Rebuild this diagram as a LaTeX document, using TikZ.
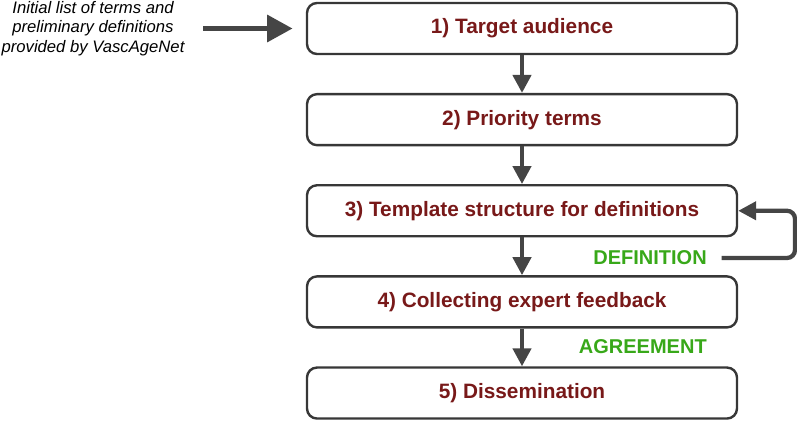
\documentclass[tikz,border=0pt]{standalone}
\usepackage{fontspec}
\setmainfont{Liberation Sans}
\usetikzlibrary{arrows.meta,positioning}
\definecolor{darkmaroon}{rgb}{0.47,0.10,0.10}
\definecolor{leafgreen}{rgb}{0.22,0.66,0.10}
\definecolor{slategray}{rgb}{0.27,0.27,0.27}
\tikzset{
  etapa/.style={
    rounded corners=7.5pt,
    draw=slategray!80!black,
    line width=1.8pt,
    fill=white,
    align=center,
    minimum width=322.5pt,
    minimum height=38.25pt,
    inner sep=0pt,
    text=darkmaroon,
    font=\fontsize{15.6}{18}\selectfont\bfseries
  },
  nota/.style={
    align=center,
    inner sep=0pt,
    font=\fontsize{12.5}{14.8}\selectfont\itshape
  },
  marca/.style={
    anchor=east,
    inner sep=0pt,
    text=leafgreen,
    font=\fontsize{15}{18}\selectfont\bfseries
  },
  arrow/.style={
    -{Triangle[length=13.5pt,width=13.5pt]},
    line width=3.2pt,
    slategray
  }
}
\begin{document}
\begin{tikzpicture}[x=0.75pt,y=-0.75pt,node distance=28.3pt]
\useasboundingbox (0,0) rectangle (797,421);
\node[etapa] (a1) at (522,28.5) {1) Target audience};
\node[etapa,below=of a1] (a2) {2) Priority terms};
\node[etapa,below=of a2] (a3) {3) Template structure for definitions};
\node[etapa,below=of a3] (a4) {4) Collecting expert feedback};
\node[etapa,below=of a4] (a5) {5) Dissemination};
\node[nota] (intro) at (93,28.5) {Initial list of terms and\\preliminary definitions\\provided by VascAgeNet};
\node[marca] (def) at (707,258) {DEFINITION};
\node[marca] (agr) at (707,347) {AGREEMENT};
\draw[arrow,-{Triangle[length=19pt,width=20pt]},shorten <=14pt,shorten >=10pt] (intro.east |- a1) -- (a1);
\draw[arrow] (a1) -- (a2);
\draw[arrow] (a2) -- (a3);
\draw[arrow] (a3) -- (a4);
\draw[arrow] (a4) -- (a5);
\draw[arrow,rounded corners=6pt] ([xshift=11pt]def.east) -- (795,258) |- (a3.east);
\end{tikzpicture}
\end{document}
